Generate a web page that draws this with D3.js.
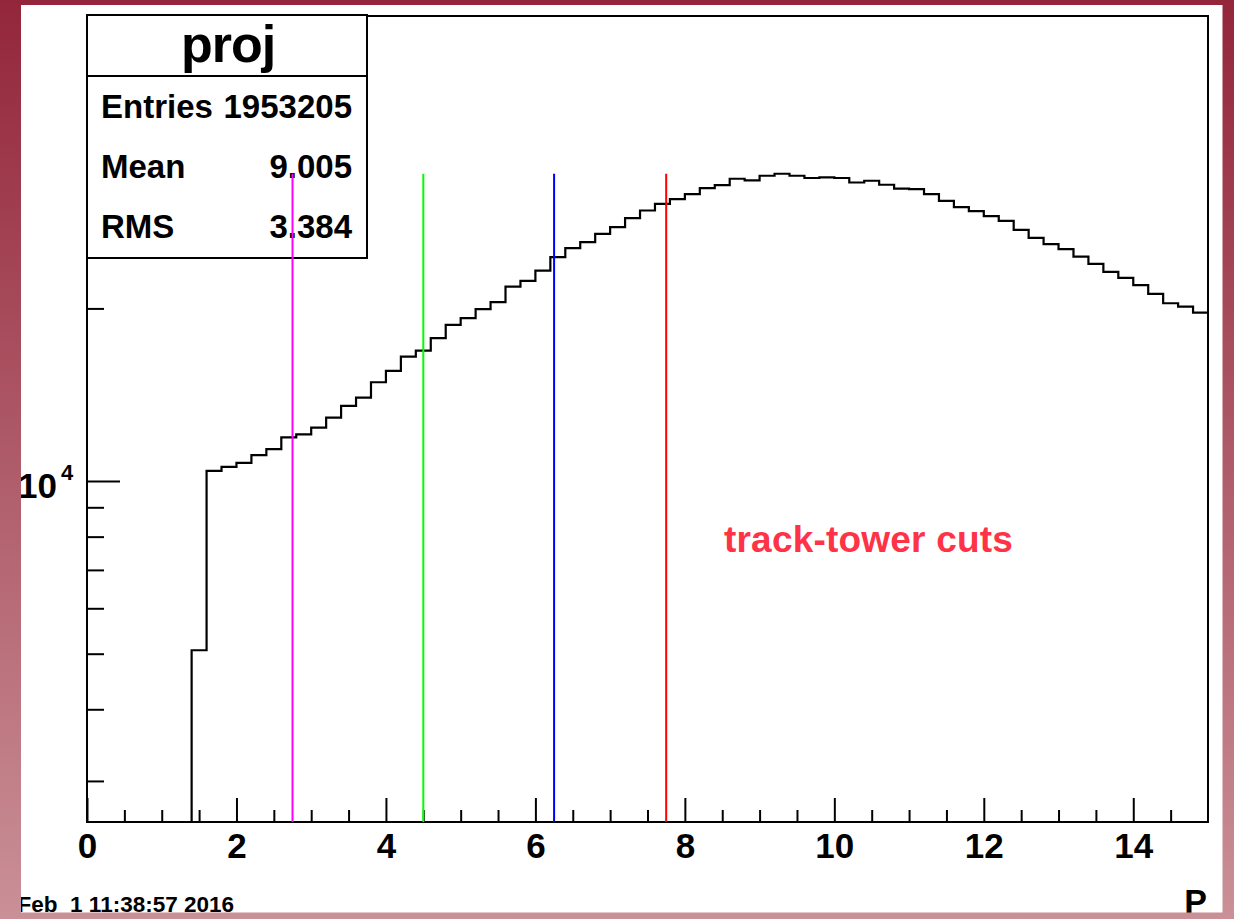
<!DOCTYPE html>
<html>
<head>
<meta charset="utf-8">
<script src="https://cdn.jsdelivr.net/npm/d3@7"></script>
<style>
  html, body { margin: 0; padding: 0; background: #fff; }
  svg { display: block; }
  text { font-family: "Liberation Sans", Arial, Helvetica, sans-serif; font-weight: bold; }
</style>
</head>
<body>
<svg id="chart" width="1234" height="919"></svg>
<script>
// ---- data ----
const histName = "proj";
const xTitle = "P";
const statLabels = ["Entries", "Mean", "RMS"];
const statValues = ["1953205", "9.005", "3.384"];
const dateStamp = "Feb  1 11:38:57 2016";
const annotation = "track-tower cuts";

const xDomain = [0, 15];
const yDomain = [2544, 64700];
const firstEdge = 1.4;       // lower edge of first filled bin
const binWidth = 0.2;
// bin contents from 1.4 to 15.0 (68 bins)
const counts = [
  5070,
  10420, 10590, 10760, 11100, 11370, 11920, 12060, 12390, 12900, 13520, 13980, 14870, 15560, 16480, 16880, 17750, 18720,
  19230, 19940, 20510, 21830, 22340, 23280, 24570, 25470, 26090, 26980, 27710, 28730, 29630, 30430, 31010, 31650, 32430,
  32820, 33660, 33430, 34070, 34340, 34070, 33760, 33840,
  33760, 33160, 33390, 32860, 32340, 32300, 31650, 30800, 30030, 29550, 28970, 28420, 27420, 26550, 25880, 25370, 24630,
  23910, 23160, 22610, 21960, 21200, 20420, 20150, 19670
];
const cutValues = [2.75, 4.5, 6.25, 7.75];
const cutColors = ["#ff00ff", "#00ff00", "#0000ff", "#ff0000"];

const xMajorTicks = [0, 2, 4, 6, 8, 10, 12, 14];
const xMinorTicks = [0.5, 1, 1.5, 2.5, 3, 3.5, 4.5, 5, 5.5, 6.5, 7, 7.5, 8.5, 9, 9.5, 10.5, 11, 11.5, 12.5, 13, 13.5, 14.5];
const yMajorTicks = [10000];
const yMinorTicks = [3000, 4000, 5000, 6000, 7000, 8000, 9000, 20000, 30000, 40000, 50000, 60000];

// ---- layout ----
const W = 1234, H = 919;
const frame = { left: 87, right: 1208, top: 16, bottom: 822 };

const svg = d3.select("#chart");

const defs = svg.append("defs");
const grad = defs.append("linearGradient").attr("id", "bg").attr("x1", 0).attr("y1", 0).attr("x2", 0).attr("y2", 1);
grad.append("stop").attr("offset", "0%").attr("stop-color", "#93263a");
grad.append("stop").attr("offset", "100%").attr("stop-color", "#ca9097");

svg.append("rect").attr("width", W).attr("height", H).attr("fill", "#fff");

const x = d3.scaleLinear().domain(xDomain).range([frame.left, frame.right]);
const y = d3.scaleLog().domain(yDomain).range([frame.bottom, frame.top]);

// x axis ticks (pointing inward)
const gx = svg.append("g").attr("transform", `translate(0,${frame.bottom})`);
gx.call(d3.axisBottom(x).tickValues(xMajorTicks).tickSize(-24).tickPadding(11).tickFormat(d3.format("d")));
const gxm = svg.append("g").attr("transform", `translate(0,${frame.bottom})`);
gxm.call(d3.axisBottom(x).tickValues(xMinorTicks).tickSize(-12).tickFormat(""));

// y axis ticks
const gy = svg.append("g").attr("transform", `translate(${frame.left},0)`);
gy.call(d3.axisLeft(y).tickValues(yMajorTicks).tickSize(-33).tickFormat(""));
const gym = svg.append("g").attr("transform", `translate(${frame.left},0)`);
gym.call(d3.axisLeft(y).tickValues(yMinorTicks).tickSize(-17).tickFormat(""));

svg.selectAll(".domain").remove();
svg.selectAll(".tick line").attr("stroke", "#000").attr("stroke-width", 2);
gx.selectAll(".tick text")
  .attr("font-size", 35).attr("font-family", "Liberation Sans, Arial, sans-serif")
  .attr("font-weight", "bold").attr("fill", "#000");

// y label 10^4
yMajorTicks.forEach(v => {
  const e = Math.round(Math.log10(v));
  svg.append("text").attr("x", 57).attr("y", y(v) + 17).attr("text-anchor", "end")
    .attr("font-size", 35).attr("fill", "#000").text("10");
  svg.append("text").attr("x", 61).attr("y", y(v) - 1).attr("font-size", 22).attr("fill", "#000").text(String(e));
});

// histogram (step line)
const edges = counts.map((_, i) => firstEdge + i * binWidth);
let p = `M${x(edges[0])},${frame.bottom}`;
counts.forEach((c, i) => {
  p += `V${y(c)}H${x(edges[i] + binWidth)}`;
});
svg.append("path").attr("d", p).attr("fill", "none").attr("stroke", "#000").attr("stroke-width", 2.2);

// frame
svg.append("rect")
  .attr("x", frame.left).attr("y", frame.top)
  .attr("width", frame.right - frame.left).attr("height", frame.bottom - frame.top)
  .attr("fill", "none").attr("stroke", "#000").attr("stroke-width", 2);

// stats box
const sb = { x0: 87, x1: 367, y0: 15, y1: 258, ySep: 76 };
svg.append("rect").attr("x", sb.x0).attr("y", sb.y0).attr("width", sb.x1 - sb.x0).attr("height", sb.y1 - sb.y0)
  .attr("fill", "#fff").attr("stroke", "#000").attr("stroke-width", 2);
svg.append("line").attr("x1", sb.x0).attr("x2", sb.x1).attr("y1", sb.ySep).attr("y2", sb.ySep)
  .attr("stroke", "#000").attr("stroke-width", 2);
svg.append("text").attr("x", (sb.x0 + sb.x1) / 2 + 1).attr("y", 62).attr("text-anchor", "middle")
  .attr("font-size", 52).attr("letter-spacing", -1).attr("fill", "#000").text(histName);
statLabels.forEach((lab, i) => {
  const by = 118 + i * 60;
  svg.append("text").attr("x", 101).attr("y", by).attr("font-size", 33).attr("fill", "#000").text(lab);
  svg.append("text").attr("x", 352).attr("y", by).attr("text-anchor", "end").attr("font-size", 33).attr("fill", "#000").text(statValues[i]);
});

// cut lines
const yTop = y(d3.max(counts));
cutValues.forEach((v, i) => {
  svg.append("line").attr("x1", x(v)).attr("x2", x(v)).attr("y1", frame.bottom).attr("y2", yTop)
    .attr("stroke", cutColors[i]).attr("stroke-width", 2);
});

// annotation
svg.append("text").attr("x", 724).attr("y", 552).attr("font-size", 37).attr("letter-spacing", 0.2)
  .attr("fill", "#ff3347").text(annotation);

// axis title
svg.append("text").attr("x", 1207).attr("y", 913).attr("text-anchor", "end").attr("font-size", 34).attr("fill", "#000").text(xTitle);

// date stamp
svg.append("text").attr("x", 234).attr("y", 912).attr("text-anchor", "end").attr("font-size", 22.5).attr("fill", "#000")
  .attr("xml:space", "preserve").style("white-space", "pre").text(dateStamp);

// outer border (gradient) drawn on top
svg.append("path")
  .attr("d", `M0,0H${W}V${H}H0Z M21,5V912.5H1222.5V5Z`)
  .attr("fill", "url(#bg)").attr("fill-rule", "evenodd");
</script>
</body>
</html>
